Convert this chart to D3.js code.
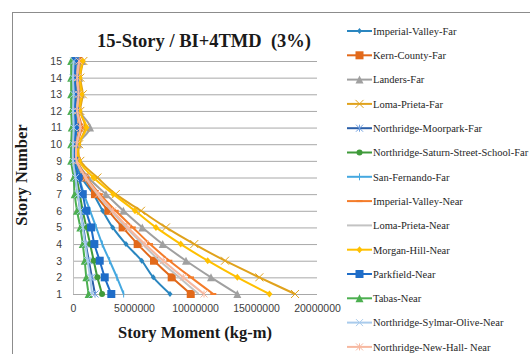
<!DOCTYPE html>
<html><head><meta charset="utf-8">
<script src="https://cdn.jsdelivr.net/npm/d3@7"></script>
<style>body{margin:0;background:#fff;}svg{display:block;}</style>
</head><body>
<svg id="c" width="530" height="354"></svg>
<script>
const stories = [1,2,3,4,5,6,7,8,9,10,11,12,13,14,15];
const xTicks = [0,5000000,10000000,15000000,20000000];
const seriesNames = ["Imperial-Valley-Far","Kern-County-Far","Landers-Far","Loma-Prieta-Far","Northridge-Moorpark-Far","Northridge-Saturn-Street-School-Far","San-Fernando-Far","Imperial-Valley-Near","Loma-Prieta-Near","Morgan-Hill-Near","Parkfield-Near","Tabas-Near","Northridge-Sylmar-Olive-Near","Northridge-New-Hall- Near"];
// values in kg-m, story 1..15
const imperialValleyFar = [7950000,6580000,5630000,4340000,3250000,2430000,1670000,700000,200000,150000,300000,200000,250000,200000,250000];
const kernCountyFar = [9650000,8090000,6640000,5300000,4070000,2900000,1800000,930000,300000,300000,500000,350000,400000,350000,450000];
const landersFar = [13470000,11310000,9260000,7350000,5680000,4130000,2700000,1250000,350000,400000,1400000,550000,650000,500000,750000];
const lomaPrietaFar = [18200000,15270000,12460000,9940000,7620000,5570000,3500000,2000000,600000,500000,1000000,600000,800000,600000,850000];
const northridgeMoorparkFar = [1800000,1550000,1300000,1050000,850000,600000,400000,200000,50000,100000,200000,100000,150000,100000,150000];
const northridgeSaturnFar = [2380000,2000000,1700000,1400000,1100000,800000,550000,300000,50000,0,50000,0,50000,0,50000];
const sanFernandoFar = [4150000,3600000,3000000,2400000,1900000,1400000,900000,500000,100000,100000,200000,150000,200000,150000,200000];
const imperialValleyNear = [11500000,9670000,7900000,6310000,4900000,3500000,2200000,1100000,350000,350000,700000,400000,500000,400000,550000];
const lomaPrietaNear = [10300000,8700000,7100000,5700000,4350000,3150000,2000000,1000000,300000,300000,600000,350000,450000,350000,500000];
const morganHillNear = [16100000,13470000,11040000,8830000,6800000,5080000,3300000,1670000,500000,450000,1100000,550000,700000,550000,800000];
const parkfieldNear = [3140000,2600000,2190000,1750000,1480000,1070000,800000,470000,100000,100000,250000,150000,200000,150000,200000];
const tabasNear = [1280000,1090000,960000,800000,600000,330000,140000,50000,-150000,-150000,-100000,-150000,-150000,-150000,-150000];
const sylmarOliveNear = [1560000,1400000,1200000,1000000,800000,600000,400000,200000,0,0,50000,0,50000,0,50000];
const newHallNear = [10740000,9040000,7400000,5900000,4500000,3250000,2080000,1050000,300000,300000,600000,350000,450000,350000,500000];

const seriesValues = [imperialValleyFar,kernCountyFar,landersFar,lomaPrietaFar,northridgeMoorparkFar,northridgeSaturnFar,sanFernandoFar,imperialValleyNear,lomaPrietaNear,morganHillNear,parkfieldNear,tabasNear,sylmarOliveNear,newHallNear];
const colors = ["#2a86c0","#e2691a","#a0a0a0","#e0a21c","#2a5ea8","#3f9a3a","#45a8e0","#f47c2a","#c3c3c3","#ffc000","#1f6dc8","#4caf50","#a9cbec","#f7b8a0"];
const markers = ["diamond","square","triangle","x","asterisk","circle","plus","dash","none","diamond","square","triangle","x","asterisk"];
const markerFill = ["#2a86c0","#e2691a","#a0a0a0","#e0a21c","#6f9fe0","#3f9a3a","#45a8e0","#f47c2a","#c3c3c3","#ffc000","#1f6dc8","#4caf50","#a9cbec","#f7b8a0"];
const markerSize = [5,8,8,8,7,6,7,6,0,6,8,8,7,7];

const svg = d3.select("#c");
svg.append("rect").attr("x",12.5).attr("y",12.5).attr("width",540).attr("height",360)
  .attr("fill","#fff").attr("stroke","#8c8c8c").attr("stroke-width",1);

const x = d3.scaleLinear().domain([0,20000000]).range([73,317]);
const y = d3.scaleLinear().domain([1,15]).range([294,61]);

const grid = svg.append("g").attr("transform","translate(73,0)")
  .call(d3.axisLeft(y).tickValues(stories).tickSize(-244).tickFormat(""));
grid.select(".domain").remove();
grid.selectAll("line").attr("stroke","#a8a8a8").attr("stroke-width",1);
svg.append("line").attr("x1",73.5).attr("x2",73.5).attr("y1",61).attr("y2",294)
  .attr("stroke","#bfbfbf").attr("stroke-width",1);

const yAx = svg.append("g").attr("transform","translate(62,0)")
  .call(d3.axisLeft(y).tickValues(stories).tickSize(0).tickPadding(0).tickFormat(d3.format("d")));
yAx.select(".domain").remove();
yAx.selectAll("text").attr("font-family","'Liberation Sans',Arial,sans-serif").attr("font-size",10.5).attr("fill","#404040");

const xAx = svg.append("g").attr("transform","translate(0,305)")
  .call(d3.axisBottom(x).tickValues(xTicks).tickSize(0).tickPadding(0).tickFormat(d3.format("d")));
xAx.select(".domain").remove();
xAx.selectAll("text").attr("font-family","'Liberation Sans',Arial,sans-serif").attr("font-size",10.5).attr("fill","#404040");

const line = d3.line().x(d=>x(d[0])).y(d=>y(d[1])).curve(d3.curveCatmullRom.alpha(0));

function drawMarker(g, type, cx, cy, size, col, fill){
  const s = size/2;
  if(type==="diamond"){
    g.append("path").attr("d",`M${cx},${cy-s-0.5}L${cx+s},${cy}L${cx},${cy+s+0.5}L${cx-s},${cy}Z`).attr("fill",fill);
  } else if(type==="square"){
    g.append("rect").attr("x",cx-s).attr("y",cy-s).attr("width",size).attr("height",size).attr("fill",fill);
  } else if(type==="triangle"){
    g.append("path").attr("d",`M${cx},${cy-s}L${cx+s},${cy+s}L${cx-s},${cy+s}Z`).attr("fill",fill);
  } else if(type==="circle"){
    g.append("circle").attr("cx",cx).attr("cy",cy).attr("r",s).attr("fill",fill);
  } else if(type==="x"){
    g.append("path").attr("d",`M${cx-s},${cy-s}L${cx+s},${cy+s}M${cx+s},${cy-s}L${cx-s},${cy+s}`).attr("stroke",fill).attr("stroke-width",1).attr("fill","none");
  } else if(type==="asterisk"){
    g.append("path").attr("d",`M${cx-s},${cy-s}L${cx+s},${cy+s}M${cx+s},${cy-s}L${cx-s},${cy+s}M${cx},${cy-s}L${cx},${cy+s}`).attr("stroke",fill).attr("stroke-width",1).attr("fill","none");
  } else if(type==="plus"){
    g.append("path").attr("d",`M${cx},${cy-s}L${cx},${cy+s}`).attr("stroke",fill).attr("stroke-width",1).attr("fill","none");
  } else if(type==="dash"){
    g.append("path").attr("d",`M${cx-s},${cy}L${cx+s},${cy}`).attr("stroke",fill).attr("stroke-width",2).attr("fill","none");
  }
}

const plot = svg.append("g");
seriesValues.forEach((vals,i)=>{
  const pts = vals.map((v,k)=>[v,stories[k]]);
  const g = plot.append("g");
  g.append("path").attr("d",line(pts)).attr("fill","none").attr("stroke",colors[i]).attr("stroke-width",2);
  if(markers[i]!=="none") pts.forEach(p=>drawMarker(g,markers[i],x(p[0]),y(p[1]),markerSize[i],colors[i],markerFill[i]));
});

svg.append("text").attr("x",204).attr("y",47).attr("text-anchor","middle")
  .attr("font-family","'Liberation Serif','Times New Roman',serif").attr("font-weight","bold").attr("font-size",18.5)
  .attr("fill","#1a1a1a").attr("xml:space","preserve").text("15-Story / BI+4TMD  (3%)");
svg.append("text").attr("x",195).attr("y",338).attr("text-anchor","middle")
  .attr("font-family","'Liberation Serif','Times New Roman',serif").attr("font-weight","bold").attr("font-size",16.5)
  .attr("fill","#1a1a1a").text("Story Moment (kg-m)");
svg.append("text").attr("transform","translate(27,175) rotate(-90)").attr("text-anchor","middle")
  .attr("font-family","'Liberation Serif','Times New Roman',serif").attr("font-weight","bold").attr("font-size",16.5)
  .attr("fill","#1a1a1a").text("Story Number");

const leg = svg.append("g");
seriesNames.forEach((name,i)=>{
  const cy = 31 + i*24.3;
  const g = leg.append("g");
  g.append("line").attr("x1",347).attr("x2",372).attr("y1",cy).attr("y2",cy).attr("stroke",colors[i]).attr("stroke-width",2);
  if(markers[i]!=="none") drawMarker(g,markers[i],359.5,cy,markerSize[i],colors[i],markerFill[i]);
  g.append("text").attr("x",373).attr("y",cy+3.8)
    .attr("font-family","'Liberation Serif','Times New Roman',serif").attr("font-size",10.5).attr("fill","#262626").text(name);
});
</script>
</body></html>
